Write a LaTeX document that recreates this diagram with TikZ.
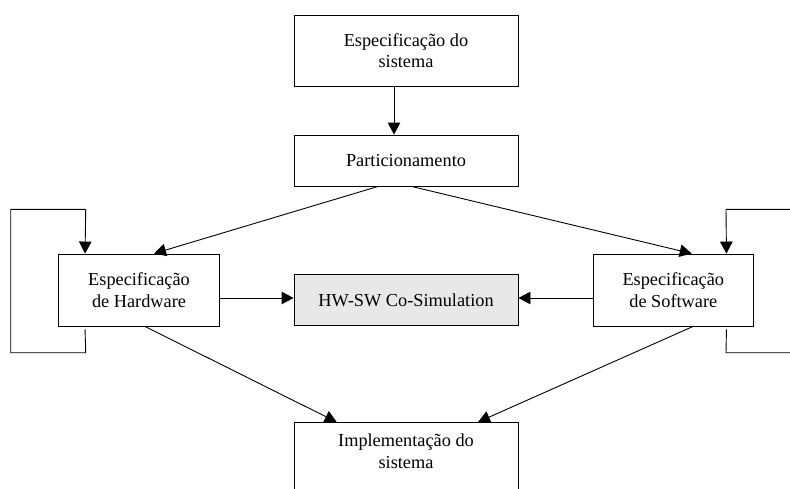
\documentclass[tikz,border=0pt]{standalone}
\usepackage{fontspec}
\setmainfont{Liberation Serif}
\usetikzlibrary{arrows.meta}
\begin{document}
\begin{tikzpicture}[x=1pt,y=-1pt,
  box/.style={draw=black, line width=0.9pt, rectangle, align=center, inner sep=0pt,
    font=\fontsize{18.3}{21.6}\selectfont},
  arr/.style={line width=0.9pt, -{Triangle[length=12pt,width=12.5pt]}},
  wire/.style={line width=0.9pt}]
\useasboundingbox (0,0) rectangle (790,488);

% blocks of the design flow
\node[box, minimum width=224pt, minimum height=71pt] (spec) at (406,50.5) {Especificação do\\sistema};
\node[box, minimum width=224pt, minimum height=51pt] (part) at (406,160.5) {Particionamento};
\node[box, minimum width=161pt, minimum height=72pt] (hw) at (139,290) {Especificação\\de Hardware};
\node[box, minimum width=224pt, minimum height=51pt, fill=black!9] (cosim) at (406,300) {HW-SW Co-Simulation};
\node[box, minimum width=160pt, minimum height=72pt] (sw) at (673.3,290) {Especificação\\de Software};
\node[box, minimum width=224pt, minimum height=71pt] (impl) at (406,458) {};
\node[font=\fontsize{18.3}{21.6}\selectfont, align=center, anchor=north, inner sep=0pt] (impltxt) at (406,434) {Implementação do\\sistema};

% main flow
\draw[arr] ([xshift=-12pt]spec.south) -- ([xshift=-12pt]part.north);
\draw[arr] ([xshift=-28pt]part.south) -- ([xshift=15pt]hw.north);
\draw[arr] ([xshift=5.7pt]part.south) -- ([xshift=18.4pt]sw.north);
\coordinate (hwout) at ([yshift=-8pt]hw.east);
\coordinate (swout) at ([yshift=-8pt]sw.west);
\draw[arr] (hwout) -- (cosim.west |- hwout);
\draw[arr] (swout) -- (cosim.east |- swout);
\draw[arr] ([xshift=6pt]hw.south) -- ([xshift=-69.3pt]impl.north);
\draw[arr] ([xshift=19.7pt]sw.south) -- ([xshift=72pt]impl.north);

% hardware refinement loop
\coordinate (hl0) at ([xshift=27pt,yshift=-3pt]hw.south west);
\coordinate (hlin) at ([xshift=27pt]hw.north west);
\coordinate (hltop) at (85.7,209.3);
\draw[wire] (hl0) -- (85.7,352.7) -- (10.7,352.7) -- (10.7,209.3) -- (hltop);
\draw[arr] (hltop) -- (hlin);

% software refinement loop
\coordinate (sl0) at ([xshift=-27.3pt,yshift=-3pt]sw.south east);
\coordinate (slin) at ([xshift=-27.3pt]sw.north east);
\coordinate (sltop) at (726,209.3);
\draw[wire] (sl0) -- (726,352.7) -- (800,352.7) -- (800,209.3) -- (sltop);
\draw[arr] (sltop) -- (slin);
\end{tikzpicture}
\end{document}
